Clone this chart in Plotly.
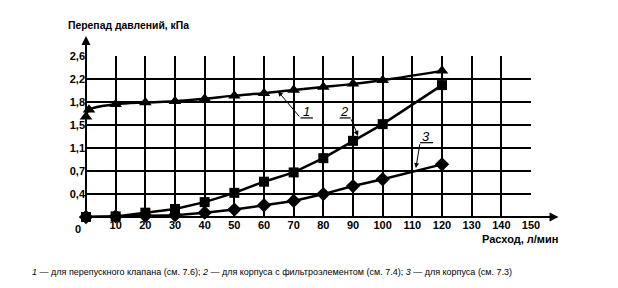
import plotly.graph_objects as go

flow = [0, 10, 20, 30, 40, 50, 60, 70, 80, 90, 100, 120]
# series 1: bypass valve (has an extra initial point)
flow1 = [0, 1, 10, 20, 30, 40, 50, 60, 70, 80, 90, 100, 120]
dp1 = [1.62, 1.73, 1.82, 1.85, 1.87, 1.91, 1.96, 2.00, 2.05, 2.10, 2.15, 2.21, 2.36]
# series 2: housing with filter element
dp2 = [0.00, 0.01, 0.07, 0.13, 0.24, 0.39, 0.57, 0.72, 0.95, 1.23, 1.50, 2.13]
# series 3: housing
dp3 = [0.00, 0.01, 0.02, 0.03, 0.07, 0.12, 0.19, 0.26, 0.37, 0.50, 0.61, 0.85]

x_ticks = [10, 20, 30, 40, 50, 60, 70, 80, 90, 100, 110, 120, 130, 140, 150]
y_ticktext = ["0,4", "0,7", "1,1", "1,5", "1,8", "2,2", "2,6"]
y_max = 2.6
y_tickvals = [y_max * k / 7 for k in range(1, 8)]

FONT = "Liberation Sans, Arial, sans-serif"

fig = go.Figure()
fig.add_trace(go.Scatter(x=flow1, y=dp1, mode="lines+markers",
                         line=dict(color="black", width=2.5),
                         marker=dict(symbol="triangle-up", size=11, color="black"),
                         line_shape="spline", cliponaxis=False))
fig.add_trace(go.Scatter(x=flow, y=dp2, mode="lines+markers",
                         line=dict(color="black", width=2.5),
                         marker=dict(symbol="square", size=10, color="black"),
                         cliponaxis=False))
fig.add_trace(go.Scatter(x=flow, y=dp3, mode="lines+markers",
                         line=dict(color="black", width=2.5),
                         marker=dict(symbol="diamond", size=11, color="black"),
                         cliponaxis=False))

fig.update_layout(
    width=618, height=288,
    margin=dict(l=86, r=87, t=56, b=71),
    paper_bgcolor="white", plot_bgcolor="white",
    showlegend=False,
    font=dict(family=FONT, size=10, color="black"),
    xaxis=dict(range=[0, 150], tickvals=x_ticks, ticks="", showgrid=True,
               gridcolor="black", gridwidth=1.5, zeroline=False, showline=False,
               tickfont=dict(family=FONT, size=11, color="black", weight="bold")),
    yaxis=dict(range=[0, y_max], tickvals=y_tickvals, ticktext=y_ticktext, ticks="",
               showgrid=True, gridcolor="black", gridwidth=1.5, zeroline=False,
               showline=False,
               tickfont=dict(family=FONT, size=11, color="black", weight="bold")),
)

# axes with arrows
fig.add_shape(type="line", xref="paper", yref="paper", x0=0, x1=0, y0=0, y1=1.10,
              line=dict(color="black", width=2))
fig.add_shape(type="line", xref="paper", yref="paper", x0=0, x1=1.05, y0=0, y1=0,
              line=dict(color="black", width=2))
fig.add_annotation(xref="paper", yref="paper", x=0, y=1.125, ax=0, ay=12,
                   axref="pixel", ayref="pixel", text="", showarrow=True,
                   arrowhead=2, arrowsize=1.2, arrowwidth=1.5, arrowcolor="black")
fig.add_annotation(xref="paper", yref="paper", x=1.062, y=0, ax=-12, ay=0,
                   text="", showarrow=True,
                   arrowhead=2, arrowsize=1.2, arrowwidth=1.5, arrowcolor="black")

# axis titles and zero label
fig.add_annotation(xref="paper", yref="paper", x=-0.045, y=1.19, xanchor="left",
                   yanchor="middle", text="Перепад давлений, кПа", showarrow=False,
                   font=dict(family=FONT, size=10.4, color="black", weight="bold"))
fig.add_annotation(xref="paper", yref="paper", x=1.065, y=-0.137, xanchor="right",
                   yanchor="middle", text="Расход, л/мин", showarrow=False,
                   font=dict(family=FONT, size=11, color="black", weight="bold"))
fig.add_annotation(xref="paper", yref="paper", x=-0.018, y=-0.075, xanchor="center",
                   yanchor="middle", text="0", showarrow=False,
                   font=dict(family=FONT, size=11, color="black", weight="bold"))

# caption
fig.add_annotation(xref="paper", yref="paper", x=0.418, y=-0.342, xanchor="center",
                   yanchor="middle",
                   text="<i>1</i> — для перепускного клапана (см. 7.6); <i>2</i> — для корпуса с фильтроэлементом (см. 7.4); <i>3</i> — для корпуса (см. 7.3)",
                   showarrow=False, font=dict(family=FONT, size=9, color="black"))

# curve labels with leaders
labels = [
    # text, text x, underline x0, x1, line y, leader end x, y, leader start x
    ("1", 74.3, 72.3, 76.5, 1.60, 64.7, 2.03, 72.3),
    ("2", 87.0, 85.5, 89.2, 1.60, 91.7, 1.31, 89.2),
    ("3", 114.5, 112.6, 117.0, 1.20, 111.2, 0.79, 112.6),
]
for txt, tx, u0, u1, uy, ex, ey, sx in labels:
    fig.add_annotation(x=tx, y=uy, text="<i>" + txt + "</i>", showarrow=False,
                       yanchor="bottom", yshift=-3,
                       font=dict(family=FONT, size=13, color="black"))
    fig.add_shape(type="line", x0=u0, x1=u1, y0=uy, y1=uy,
                  line=dict(color="black", width=1.2))
    fig.add_annotation(x=ex, y=ey, ax=sx, ay=uy, axref="x", ayref="y",
                       text="", showarrow=True, arrowhead=2, arrowsize=1,
                       arrowwidth=1, arrowcolor="black")

fig.write_html("out.html")
